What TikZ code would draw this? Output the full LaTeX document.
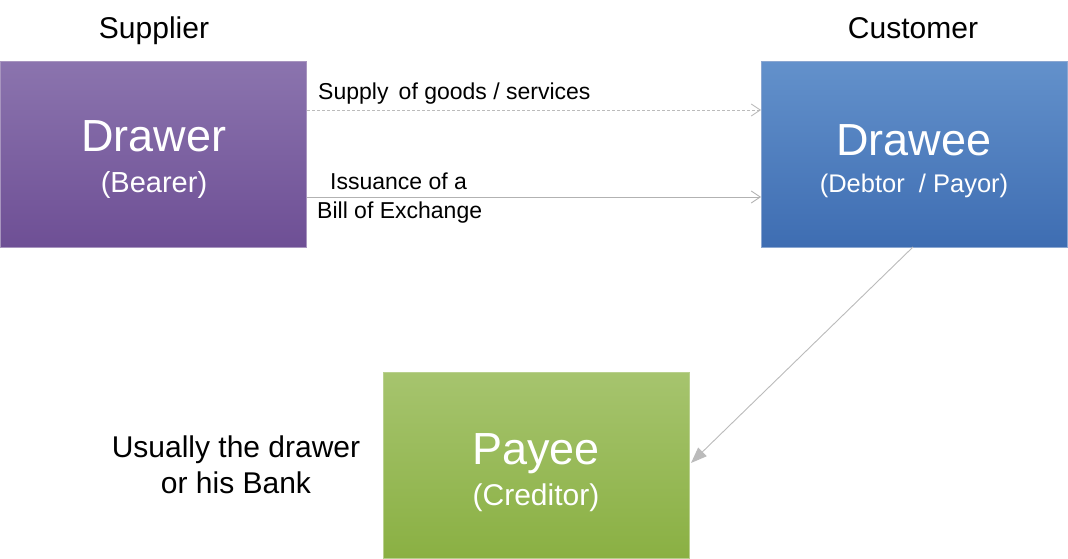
\documentclass[tikz,border=0pt]{standalone}
\usepackage{fontspec}
\setmainfont{Liberation Sans}
\usetikzlibrary{arrows.meta}
\definecolor{purpT}{HTML}{8B74AE}
\definecolor{purpB}{HTML}{6E4F95}
\definecolor{blueT}{HTML}{6391CB}
\definecolor{blueB}{HTML}{3E6DB2}
\definecolor{grnT}{HTML}{A6C46E}
\definecolor{grnB}{HTML}{8AB043}
\definecolor{lineg}{HTML}{BBBBBB}
\begin{document}
\begin{tikzpicture}[x=1pt,y=-1pt,
  box/.style={draw=#1!60!white,line width=0.8pt,minimum width=306pt,minimum height=186pt,inner sep=0pt,anchor=north west},
  title/.style={text=white,font=\fontsize{45}{54}\selectfont,anchor=base,inner sep=0pt},
  subt/.style={text=white,font=\fontsize{29}{35}\selectfont,anchor=base,inner sep=0pt},
  head/.style={font=\fontsize{30}{36}\selectfont,anchor=base,inner sep=0pt},
  lab/.style={font=\fontsize{23}{27}\selectfont,anchor=base west,inner sep=0pt},
  conn/.style={draw=lineg,line width=0.9pt}
]
\useasboundingbox (0,0) rectangle (1068,559);
\node[box=purpB,top color=purpT,bottom color=purpB] (drawer) at (0,61) {};
\node[box=blueB,top color=blueT,bottom color=blueB] (drawee) at (761,61) {};
\node[box=grnB,top color=grnT,bottom color=grnB] (payee) at (383,372) {};

\node[head] (supplier) at (154,39) {Supplier};
\node[head] (customer) at (913,39) {Customer};

\node[title] (drawert) at (154,152) {Drawer};
\node[subt] (drawers) at (154,192) {(Bearer)};
\node[title] (draweet) at (914,155) {Drawee};
\node[subt,font=\fontsize{25.5}{31}\selectfont] (drawees) at (914,192) {(Debtor \ / Payor)};
\node[title] (payeet) at (536,464) {Payee};
\node[subt,font=\fontsize{30}{36}\selectfont] (payees) at (536,505) {(Creditor)};

\node[lab] (supply) at (318,100) {Supply \,of goods / services};
\node[lab] (issue1) at (330,189) {Issuance of a};
\node[lab] (issue2) at (317,218) {Bill of Exchange};

\node[head] (usually1) at (236,457) {Usually the drawer};
\node[head] (usually2) at (236,493) {or his Bank};

\coordinate (d1) at (307,110);
\coordinate (e1) at (761,110);
\coordinate (d2) at (307,197);
\coordinate (e2) at (761,197);
\coordinate (s3) at (913,247);
\coordinate (p3) at (691,463);
\draw[conn,dashed,dash pattern=on 3pt off 2pt,-{Straight Barb[length=9pt,width=12pt,line width=0.9pt]}] (d1) -- (e1);
\draw[conn,draw=lineg!95!black,-{Straight Barb[length=9pt,width=12pt,line width=0.9pt]}] (d2) -- (e2);
\draw[conn,-{Triangle[length=16pt,width=12pt,fill=lineg]}] (s3) -- (p3);
\end{tikzpicture}
\end{document}
